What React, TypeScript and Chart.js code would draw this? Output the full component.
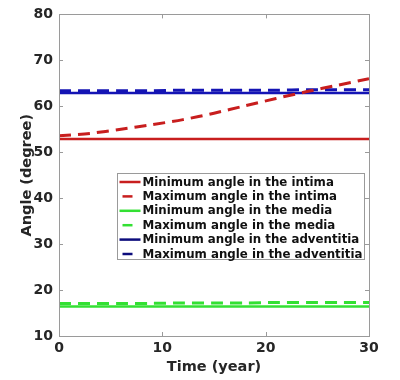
import React, { useEffect, useRef } from "react";
import { Chart, registerables } from "chart.js";

Chart.register(...registerables);

const years = [0, 3, 6, 9, 12, 15, 18, 21, 24, 27, 30];
const minIntima = [52.9, 52.9, 52.9, 52.9, 52.9, 52.9, 52.9, 52.9, 52.9, 52.9, 52.9];
const maxIntima = [53.6, 54.1, 55.0, 56.0, 57.1, 58.5, 60.1, 61.7, 63.2, 64.6, 66.0];
const minMedia = [16.4, 16.4, 16.4, 16.4, 16.4, 16.4, 16.4, 16.4, 16.4, 16.4, 16.4];
const maxMedia = [17.1, 17.1, 17.1, 17.1, 17.2, 17.2, 17.2, 17.3, 17.3, 17.3, 17.3];
const minAdventitia = [62.9, 62.9, 62.9, 62.9, 62.9, 62.9, 62.9, 62.9, 62.9, 62.9, 62.9];
const maxAdventitia = [63.4, 63.4, 63.4, 63.4, 63.5, 63.5, 63.5, 63.5, 63.6, 63.6, 63.6];

const seriesLabels = [
  "Minimum angle in the intima",
  "Maximum angle in the intima",
  "Minimum angle in the media",
  "Maximum angle in the media",
  "Minimum angle in the adventitia",
  "Maximum angle in the adventitia",
];
const xTicks = [0, 10, 20, 30];
const yTicks = [10, 20, 30, 40, 50, 60, 70, 80];

const RED = "#c81e1e";
const GREEN = "#33e033";
const BLUE = "#1414b4";
const NAVY = "#0c0c7c";

const FONT = "'DejaVu Sans', sans-serif";

const frameAndLegend = {
  id: "frameAndLegend",
  afterDatasetsDraw(chart: any) {
    const { ctx, chartArea: ca, scales } = chart;
    ctx.save();
    // frame
    ctx.strokeStyle = "#9a9a9a";
    ctx.lineWidth = 1;
    ctx.strokeRect(Math.round(ca.left) + 0.5, Math.round(ca.top) + 0.5, Math.round(ca.right - ca.left), Math.round(ca.bottom - ca.top));
    // inner ticks
    ctx.beginPath();
    xTicks.forEach((v) => {
      const x = Math.round(scales.x.getPixelForValue(v)) + 0.5;
      ctx.moveTo(x, ca.bottom);
      ctx.lineTo(x, ca.bottom - 4);
      ctx.moveTo(x, ca.top);
      ctx.lineTo(x, ca.top + 4);
    });
    yTicks.forEach((v) => {
      const y = Math.round(scales.y.getPixelForValue(v)) + 0.5;
      ctx.moveTo(ca.left, y);
      ctx.lineTo(ca.left + 4, y);
      ctx.moveTo(ca.right, y);
      ctx.lineTo(ca.right - 4, y);
    });
    ctx.stroke();

    // legend
    const datasets = chart.data.datasets;
    const bx = ca.left + 58.5;
    const by = 173.5;
    const bw = 247;
    const bh = 86;
    ctx.fillStyle = "#ffffff";
    ctx.fillRect(bx, by, bw, bh);
    ctx.strokeStyle = "#9a9a9a";
    ctx.strokeRect(bx, by, bw, bh);
    ctx.font = `bold 11.8px ${FONT}`;
    ctx.textBaseline = "middle";
    ctx.textAlign = "left";
    datasets.forEach((ds: any, i: number) => {
      const cy = by + 8.5 + i * 14.4;
      ctx.strokeStyle = ds.legendColor || ds.borderColor;
      ctx.lineWidth = 2.5;
      ctx.setLineDash([]);
      ctx.beginPath();
      if (ds.borderDash && ds.borderDash.length) {
        ctx.moveTo(bx + 5, cy);
        ctx.lineTo(bx + 15, cy);
      } else {
        ctx.moveTo(bx + 2, cy);
        ctx.lineTo(bx + 23, cy);
      }
      ctx.stroke();
      ctx.fillStyle = "#111111";
      ctx.fillText(ds.label, bx + 25, cy + 0.5);
    });
    ctx.restore();
  },
};

export default function App() {
  const ref = useRef<HTMLCanvasElement | null>(null);
  useEffect(() => {
    document.body.style.margin = "0";
    const mk = (vals: number[]) => years.map((x, i) => ({ x, y: vals[i] }));
    const chart = new Chart(ref.current as HTMLCanvasElement, {
      type: "line",
      data: {
        datasets: [
          { label: seriesLabels[0], data: mk(minIntima), borderColor: RED, borderWidth: 2.5 },
          { label: seriesLabels[1], data: mk(maxIntima), borderColor: RED, borderWidth: 3, borderDash: [12, 7] },
          { label: seriesLabels[2], data: mk(minMedia), borderColor: GREEN, borderWidth: 2.5 },
          { label: seriesLabels[3], data: mk(maxMedia), borderColor: GREEN, borderWidth: 3, borderDash: [12, 7] },
          { label: seriesLabels[4], data: mk(minAdventitia), borderColor: BLUE, borderWidth: 2.5, legendColor: NAVY } as any,
          { label: seriesLabels[5], data: mk(maxAdventitia), borderColor: BLUE, borderWidth: 3, borderDash: [12, 7], legendColor: NAVY } as any,
        ],
      },
      options: {
        animation: false,
        responsive: false,
        maintainAspectRatio: false,
        layout: { padding: { top: 13, right: 31, left: 0, bottom: 0 } },
        elements: { point: { radius: 0 }, line: { tension: 0.3, fill: false } },
        plugins: { legend: { display: false }, tooltip: { enabled: false } },
        scales: {
          x: {
            type: "linear",
            min: 0,
            max: 30,
            afterBuildTicks: (s: any) => { s.ticks = xTicks.map((v) => ({ value: v })); },
            afterFit: (s: any) => { s.height = 44; },
            grid: { display: false, drawTicks: false },
            border: { display: false },
            ticks: { padding: 4, color: "#262626", font: { family: FONT, size: 14, weight: "bold" } },
            title: { display: true, text: "Time (year)", color: "#262626", padding: { top: 0, bottom: 4 }, font: { family: FONT, size: 14.5, weight: "bold" } },
          },
          y: {
            type: "linear",
            min: 10,
            max: 80,
            afterBuildTicks: (s: any) => { s.ticks = yTicks.map((v) => ({ value: v })); },
            afterFit: (s: any) => { s.width = 59; },
            grid: { display: false, drawTicks: false },
            border: { display: false },
            ticks: { padding: 6, color: "#262626", font: { family: FONT, size: 14, weight: "bold" } },
            title: { display: true, text: "Angle (degree)", color: "#262626", padding: { top: 19, bottom: 0 }, font: { family: FONT, size: 14.5, weight: "bold" } },
          },
        },
      },
      plugins: [frameAndLegend],
    });
    return () => chart.destroy();
  }, []);
  return (
    <div style={{ position: "absolute", left: 0, top: 0, width: 400, height: 380, background: "#fff" }}>
      <canvas ref={ref} width={400} height={380} style={{ display: "block", width: 400, height: 380 }} />
    </div>
  );
}
